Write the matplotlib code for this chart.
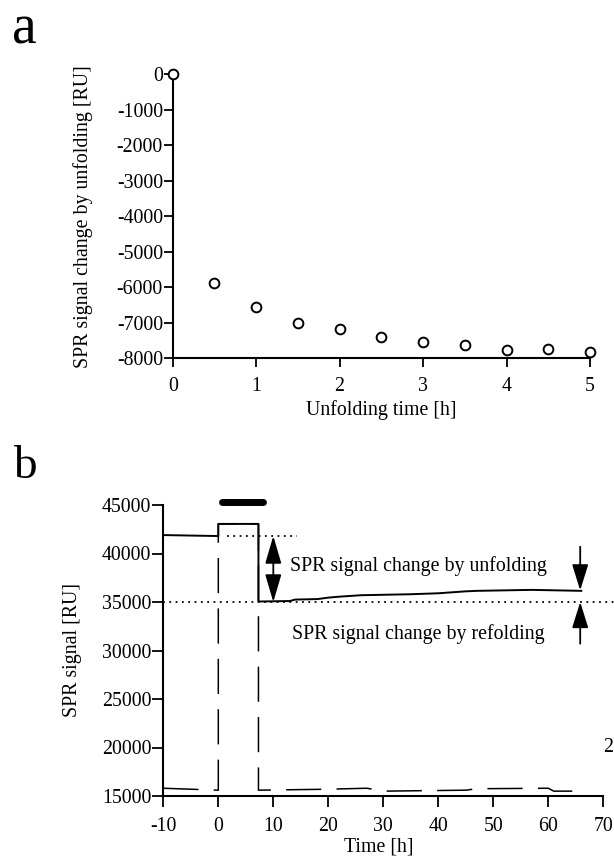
import matplotlib
matplotlib.use("Agg")
import matplotlib.pyplot as plt

plt.rcParams['font.family'] = ['Liberation Serif', 'DejaVu Serif']
plt.rcParams['axes.unicode_minus'] = False

# ---------------- data: panel a ----------------
unfold_time = [0, 0.5, 1, 1.5, 2, 2.5, 3, 3.5, 4, 4.5, 5]
unfold_signal = [0, -5870, -6560, -7000, -7180, -7390, -7530, -7625, -7765, -7745, -7815]
a_xticks = [0, 1, 2, 3, 4, 5]
a_yticks = [0, -1000, -2000, -3000, -4000, -5000, -6000, -7000, -8000]
a_yticklabels = ["0", "-1000", "-2000", "-3000", "-4000", "-5000", "-6000", "-7000", "-8000"]

# ---------------- data: panel b ----------------
sample_t = [-10, 0, 0, 7.3, 7.3, 13, 14, 18, 20, 22, 26, 35, 40, 45, 47, 57, 66]
sample_sig = [41900, 41800, 43050, 43050, 35050, 35100, 35250, 35300, 35450, 35550,
              35700, 35800, 35900, 36100, 36150, 36250, 36150]
ref_t = [-10, 0, 0, 7.3, 7.3, 20, 27, 30, 45, 47, 60, 61, 66]
ref_sig = [15800, 15600, 43050, 43050, 15600, 15700, 15800, 15500, 15600, 15750, 15800, 15500, 15500]
inject_t = [0.6, 8.2]
inject_level = 45350
baseline_level = 41800
baseline_t = [1.5, 14.3]
refold_level = 35000
refold_t = [-10, 72]
end_level = 36200
arrow_t_unfold = 10.0
arrow_t_end = 65.8
b_xticks = [-10, 0, 10, 20, 30, 40, 50, 60, 70]
b_yticks = [15000, 20000, 25000, 30000, 35000, 40000, 45000]

FS = 14.3
W, H = 614, 866
fig = plt.figure(figsize=(W / 100, H / 100), dpi=100)


def fx(px):
    return px / W


def fy(py):
    return 1 - py / H


def style(ax, tl, pad_x, pad_y):
    for s in ['top', 'right']:
        ax.spines[s].set_visible(False)
    for s in ['left', 'bottom']:
        ax.spines[s].set_linewidth(1.5)
    ax.tick_params(axis='both', direction='out', width=1.3, length=tl, labelsize=FS)
    ax.tick_params(axis='x', pad=pad_x)
    ax.tick_params(axis='y', pad=pad_y)


# ---------------- panel a ----------------
axa = fig.add_axes([fx(172.7), fy(358.3), fx(590 - 172.7), (358.3 - 74.3) / H])
axa.plot(unfold_time, unfold_signal, 'o', mfc='white', mec='black', ms=7, mew=1.4,
         clip_on=False, zorder=5)
axa.set_xlim(0, 5)
axa.set_ylim(-8000, 0)
axa.set_xticks(a_xticks)
axa.set_xticklabels([str(v) for v in a_xticks])
axa.set_yticks(a_yticks)
axa.set_yticklabels(a_yticklabels)
style(axa, 6.5, 7, 0.5)
fig.text(fx(381), fy(410), "Unfolding time [h]", ha='center', va='center', fontsize=FS)
fig.text(fx(83), fy(217), "SPR signal change by unfolding [RU]", ha='center', va='center',
         rotation=90, fontsize=FS)
fig.text(fx(24), fy(30), "a", ha='center', va='center', fontsize=40)

# ---------------- panel b ----------------
axb = fig.add_axes([fx(163.3), fy(796), fx(603.3 - 163.3), (796 - 505) / H])
axb.plot(ref_t, ref_sig, color='black', lw=1.1, dashes=(23, 10), zorder=3)
axb.plot(sample_t, sample_sig, color='black', lw=1.4, zorder=4)
axb.plot(inject_t, [inject_level] * 2, color='black', lw=5, solid_capstyle='round',
         clip_on=False)
axb.plot(baseline_t, [baseline_level] * 2, color='black', lw=1.3, linestyle=(0, (1, 2.5)))
axb.plot(refold_t, [refold_level] * 2, color='black', lw=1.3, linestyle=(0, (1, 2.5)),
         clip_on=False)

axb.annotate("", xy=(arrow_t_unfold, refold_level), xytext=(arrow_t_unfold, baseline_level),
             arrowprops=dict(arrowstyle="<|-|>,head_length=17,head_width=5",
                             mutation_scale=1, color='black', lw=1.3, shrinkA=0, shrinkB=0))
axb.annotate("", xy=(arrow_t_end, end_level), xytext=(arrow_t_end, 40700),
             arrowprops=dict(arrowstyle="-|>,head_length=16,head_width=5",
                             mutation_scale=1, color='black', lw=1.3, shrinkA=0, shrinkB=0))
axb.annotate("", xy=(arrow_t_end, refold_level), xytext=(arrow_t_end, 30700),
             arrowprops=dict(arrowstyle="-|>,head_length=16,head_width=5",
                             mutation_scale=1, color='black', lw=1.3, shrinkA=0, shrinkB=0))
axb.text(13.0, 38700, "SPR signal change by unfolding", ha='left', va='center', fontsize=FS)
axb.text(13.4, 31700, "SPR signal change by refolding", ha='left', va='center', fontsize=FS)

axb.set_xlim(-10, 70)
axb.set_ylim(15000, 45000)
axb.set_xticks(b_xticks)
axb.set_xticklabels([str(v) for v in b_xticks])
axb.set_yticks(b_yticks)
axb.set_yticklabels([str(v) for v in b_yticks])
style(axb, 8, 7, 0.5)
fig.text(fx(379), fy(847), "Time [h]", ha='center', va='center', fontsize=FS)
fig.text(fx(72), fy(650), "SPR signal [RU]", ha='center', va='center', rotation=90,
         fontsize=FS)
fig.text(fx(25), fy(467), "b", ha='center', va='center', fontsize=34)
fig.text(fx(603), fy(747), "2", ha='left', va='center', fontsize=FS)

fig.savefig("out.png", dpi=100, facecolor='white')
